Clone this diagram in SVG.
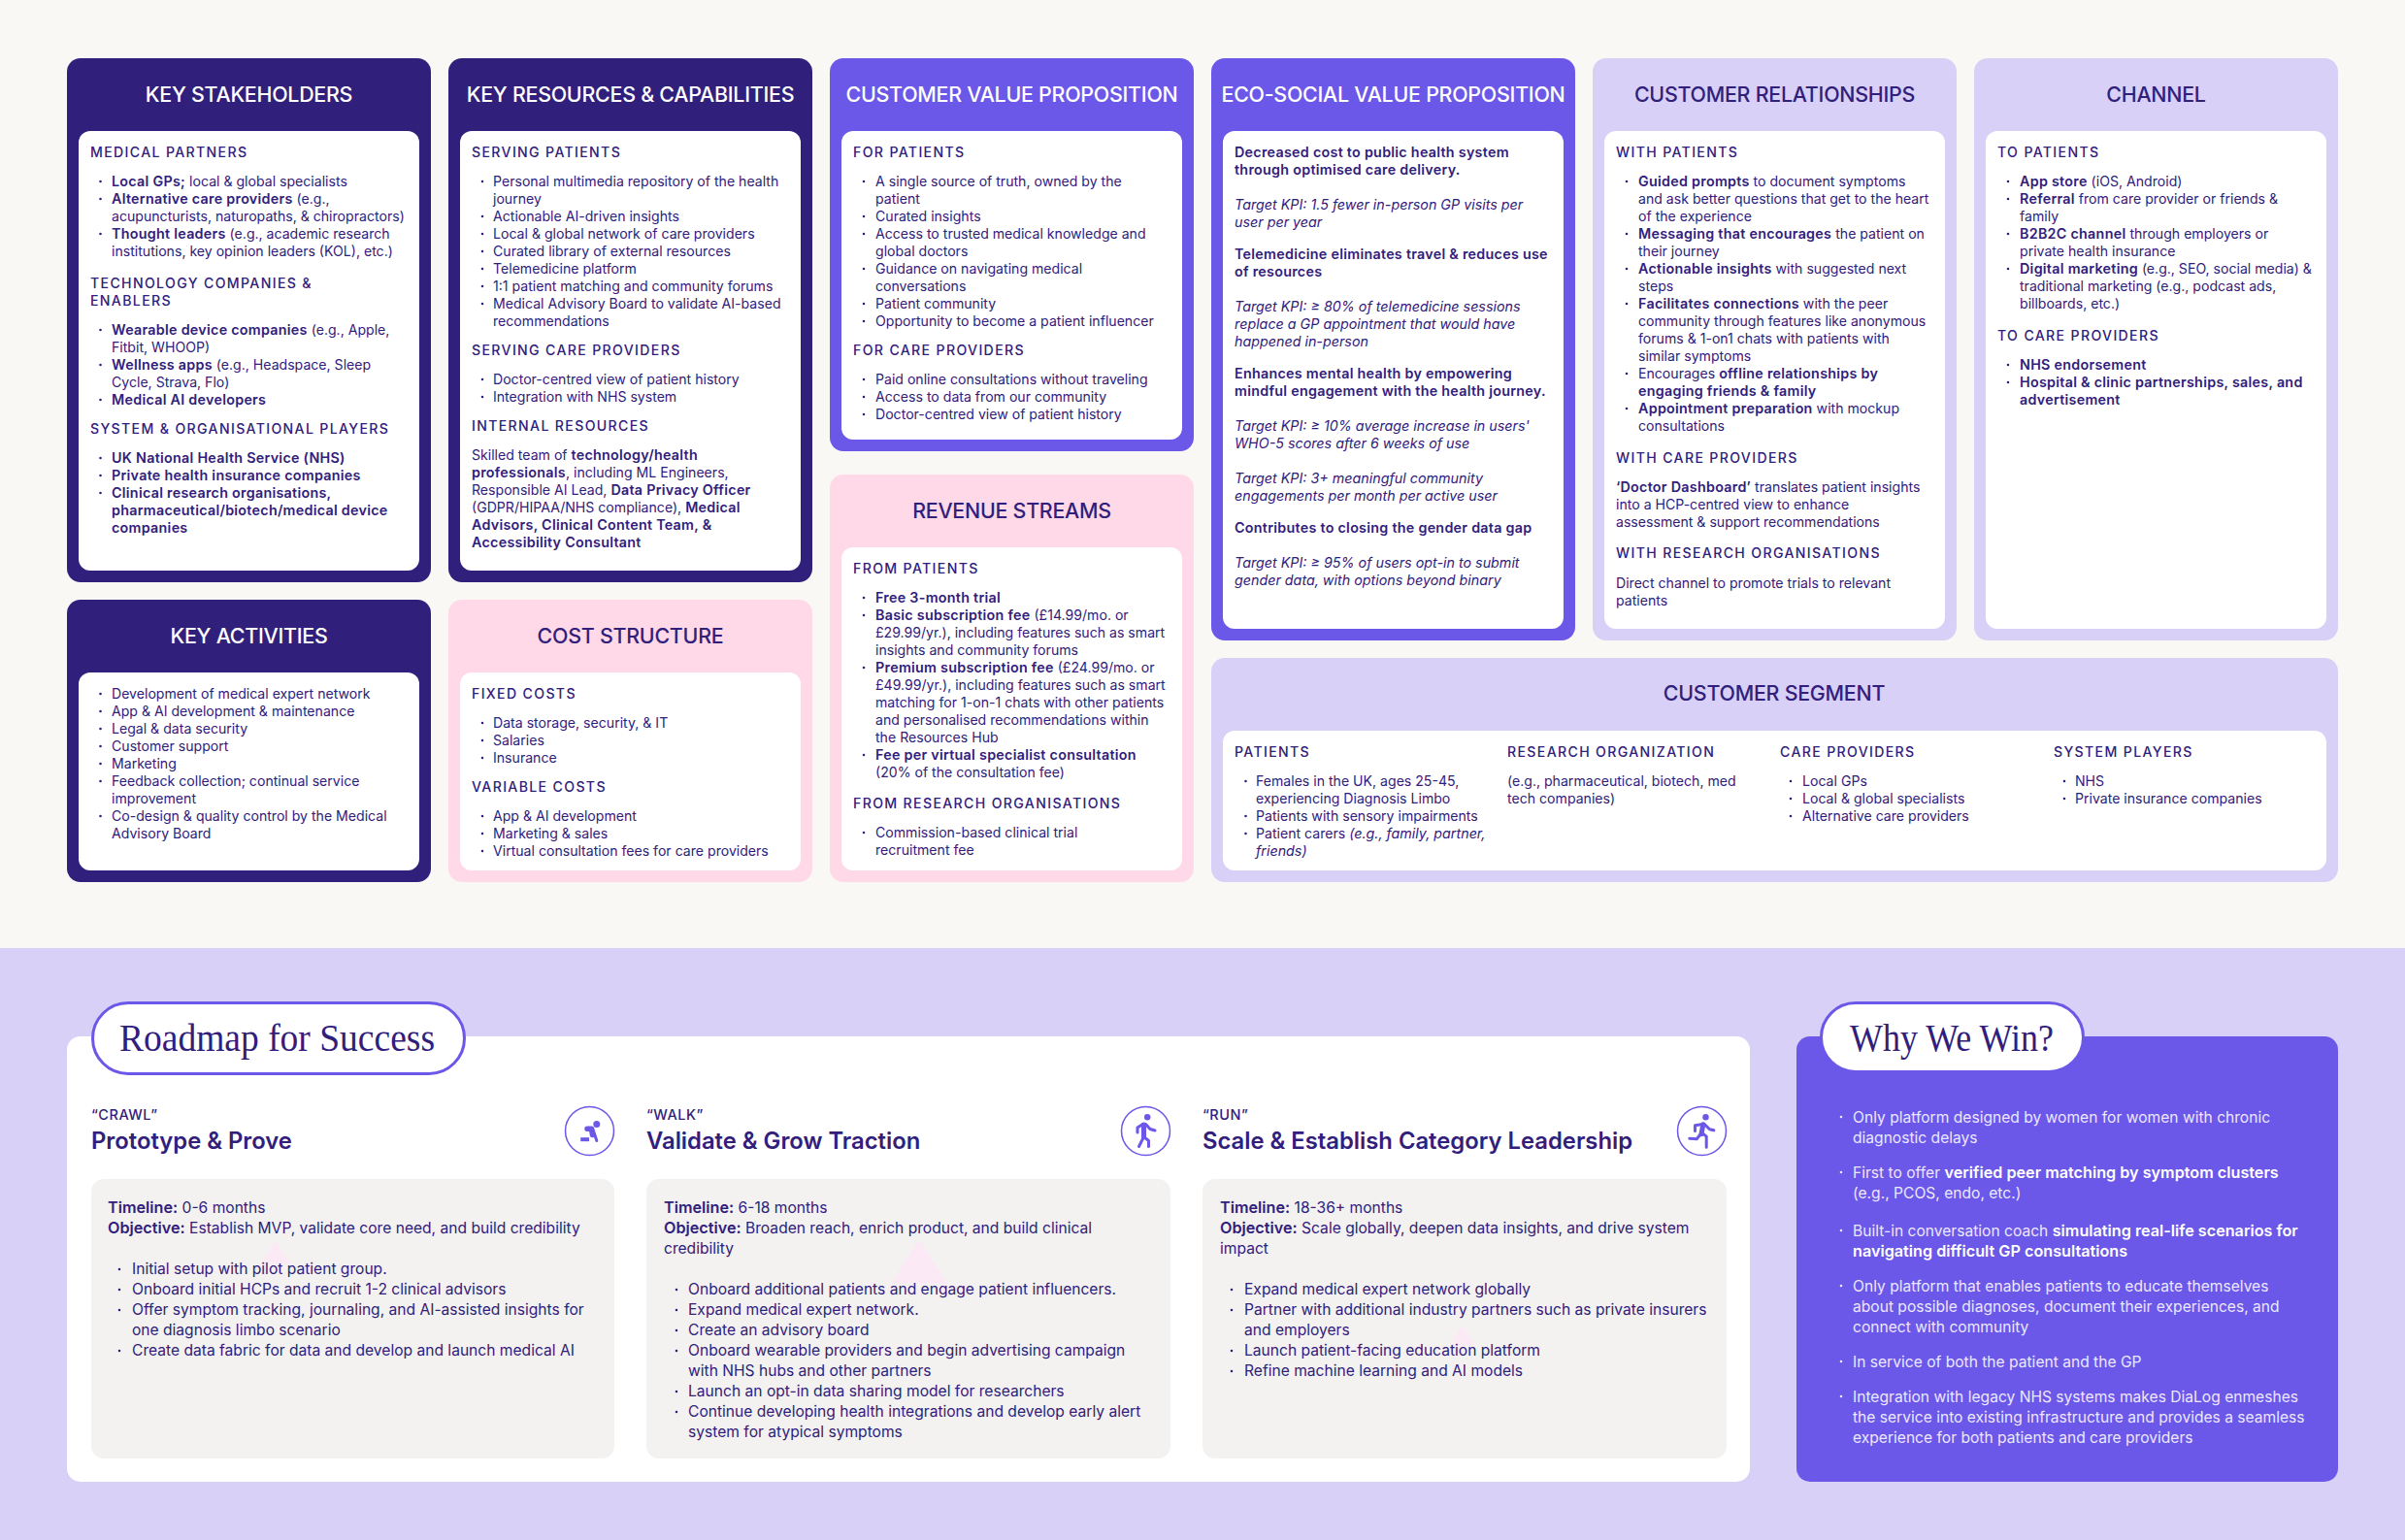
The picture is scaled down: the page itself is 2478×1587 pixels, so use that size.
<svg xmlns="http://www.w3.org/2000/svg" width="2478" height="1587" viewBox="0 0 2478 1587">
<style>
text{font-family:Inter,"Liberation Sans",sans-serif;font-size:14.1px;fill:#30207c;font-weight:400}
.b{font-weight:600;font-size:14.3px;letter-spacing:.28px}
.i{font-style:italic;font-size:14.3px}
.h{font-weight:500;letter-spacing:1.35px}
.T{font-size:21.4px;font-weight:500;text-anchor:middle;letter-spacing:-.25px}
.w{fill:#fff}
.n{fill:#30207c}.p{fill:#6b57e8}.l{fill:#d8d0f6}.k{fill:#ffd9e8}.g{fill:#f3f2f0}.f{fill:#fff}
.d{fill:none;stroke:#30207c;stroke-width:2.6;stroke-linecap:round}
.r text,.v text{font-size:15.6px}
.r .b,.v .b{font-size:16.2px;letter-spacing:0}
.r .s{font-size:14.5px;font-weight:500;letter-spacing:.5px}
.r .H{font-size:23.8px;font-weight:600}
.r .serif,.v .serif{font-family:"Liberation Serif",serif;font-size:40px;fill:#30207c}
.v text{fill:#ece8ff}
.v .b{fill:#fff}
.ic{fill:none;stroke:#6b57e8;stroke-linecap:round;stroke-linejoin:round;stroke-width:3}
.tri{fill:#fbeaf6}
</style>
<rect width="2478" height="1587" fill="#f9f8f5"/>
<rect y="977" width="2478" height="610" class="l"/>

<g id="key-stakeholders">
<rect x="69" y="60" width="375" height="540" rx="14" class="n"/><rect x="81" y="135" width="351" height="453" rx="12" class="f"/>
<text class="T w" x="256.500" y="105">KEY STAKEHOLDERS</text>
<path class="d" d="M103.500 187h.01M103.500 205h.01M103.500 241h.01M103.500 340h.01M103.500 376h.01M103.500 412h.01M103.500 472h.01M103.500 490h.01M103.500 508h.01"/>
<text class="h" x="93" y="162">MEDICAL PARTNERS</text>
<text x="115" y="192"><tspan class="b">Local GPs;</tspan> local &amp; global specialists</text>
<text x="115" y="210"><tspan class="b">Alternative care providers</tspan> (e.g.,</text>
<text x="115" y="228">acupuncturists, naturopaths, &amp; chiropractors)</text>
<text x="115" y="246"><tspan class="b">Thought leaders</tspan> (e.g., academic research</text>
<text x="115" y="264">institutions, key opinion leaders (KOL), etc.)</text>
<text class="h" x="93" y="297">TECHNOLOGY COMPANIES &amp;</text>
<text class="h" x="93" y="315">ENABLERS</text>
<text x="115" y="345"><tspan class="b">Wearable device companies</tspan> (e.g., Apple,</text>
<text x="115" y="363">Fitbit, WHOOP)</text>
<text x="115" y="381"><tspan class="b">Wellness apps</tspan> (e.g., Headspace, Sleep</text>
<text x="115" y="399">Cycle, Strava, Flo)</text>
<text class="b" x="115" y="417">Medical AI developers</text>
<text class="h" x="93" y="447">SYSTEM &amp; ORGANISATIONAL PLAYERS</text>
<text class="b" x="115" y="477">UK National Health Service (NHS)</text>
<text class="b" x="115" y="495">Private health insurance companies</text>
<text class="b" x="115" y="513">Clinical research organisations,</text>
<text class="b" x="115" y="531">pharmaceutical/biotech/medical device</text>
<text class="b" x="115" y="549">companies</text>
</g>

<g id="key-resources">
<rect x="462" y="60" width="375" height="540" rx="14" class="n"/><rect x="474" y="135" width="351" height="453" rx="12" class="f"/>
<text class="T w" x="649.500" y="105">KEY RESOURCES &amp; CAPABILITIES</text>
<path class="d" d="M497 187h.01M497 223h.01M497 241h.01M497 259h.01M497 277h.01M497 295h.01M497 313h.01M497 391h.01M497 409h.01"/>
<text class="h" x="486" y="162">SERVING PATIENTS</text>
<text x="508" y="192">Personal multimedia repository of the health</text>
<text x="508" y="210">journey</text>
<text x="508" y="228">Actionable AI-driven insights</text>
<text x="508" y="246">Local &amp; global network of care providers</text>
<text x="508" y="264">Curated library of external resources</text>
<text x="508" y="282">Telemedicine platform</text>
<text x="508" y="300">1:1 patient matching and community forums</text>
<text x="508" y="318">Medical Advisory Board to validate AI-based</text>
<text x="508" y="336">recommendations</text>
<text class="h" x="486" y="366">SERVING CARE PROVIDERS</text>
<text x="508" y="396">Doctor-centred view of patient history</text>
<text x="508" y="414">Integration with NHS system</text>
<text class="h" x="486" y="444">INTERNAL RESOURCES</text>
<text x="486" y="474">Skilled team of <tspan class="b">technology/health</tspan></text>
<text x="486" y="492"><tspan class="b">professionals</tspan>, including ML Engineers,</text>
<text x="486" y="510">Responsible AI Lead, <tspan class="b">Data Privacy Officer</tspan></text>
<text x="486" y="528">(GDPR/HIPAA/NHS compliance), <tspan class="b">Medical</tspan></text>
<text class="b" x="486" y="546">Advisors, Clinical Content Team, &amp;</text>
<text class="b" x="486" y="564">Accessibility Consultant</text>
</g>

<g id="key-activities">
<rect x="69" y="618" width="375" height="291" rx="14" class="n"/><rect x="81" y="693" width="351" height="204" rx="12" class="f"/>
<text class="T w" x="256.500" y="663">KEY ACTIVITIES</text>
<path class="d" d="M103.500 715h.01M103.500 733h.01M103.500 751h.01M103.500 769h.01M103.500 787h.01M103.500 805h.01M103.500 841h.01"/>
<text x="115" y="720">Development of medical expert network</text>
<text x="115" y="738">App &amp; AI development &amp; maintenance</text>
<text x="115" y="756">Legal &amp; data security</text>
<text x="115" y="774">Customer support</text>
<text x="115" y="792">Marketing</text>
<text x="115" y="810">Feedback collection; continual service</text>
<text x="115" y="828">improvement</text>
<text x="115" y="846">Co-design &amp; quality control by the Medical</text>
<text x="115" y="864">Advisory Board</text>
</g>

<g id="cost-structure">
<rect x="462" y="618" width="375" height="291" rx="14" class="k"/><rect x="474" y="693" width="351" height="204" rx="12" class="f"/>
<text class="T" x="649.500" y="663">COST STRUCTURE</text>
<path class="d" d="M497 745h.01M497 763h.01M497 781h.01M497 841h.01M497 859h.01M497 877h.01"/>
<text class="h" x="486" y="720">FIXED COSTS</text>
<text x="508" y="750">Data storage, security, &amp; IT</text>
<text x="508" y="768">Salaries</text>
<text x="508" y="786">Insurance</text>
<text class="h" x="486" y="816">VARIABLE COSTS</text>
<text x="508" y="846">App &amp; AI development</text>
<text x="508" y="864">Marketing &amp; sales</text>
<text x="508" y="882">Virtual consultation fees for care providers</text>
</g>

<g id="customer-value-proposition">
<rect x="855" y="60" width="375" height="405" rx="14" class="p"/><rect x="867" y="135" width="351" height="318" rx="12" class="f"/>
<text class="T w" x="1042.500" y="105">CUSTOMER VALUE PROPOSITION</text>
<path class="d" d="M890 187h.01M890 223h.01M890 241h.01M890 277h.01M890 313h.01M890 331h.01M890 391h.01M890 409h.01M890 427h.01"/>
<text class="h" x="879" y="162">FOR PATIENTS</text>
<text x="902" y="192">A single source of truth, owned by the</text>
<text x="902" y="210">patient</text>
<text x="902" y="228">Curated insights</text>
<text x="902" y="246">Access to trusted medical knowledge and</text>
<text x="902" y="264">global doctors</text>
<text x="902" y="282">Guidance on navigating medical</text>
<text x="902" y="300">conversations</text>
<text x="902" y="318">Patient community</text>
<text x="902" y="336">Opportunity to become a patient influencer</text>
<text class="h" x="879" y="366">FOR CARE PROVIDERS</text>
<text x="902" y="396">Paid online consultations without traveling</text>
<text x="902" y="414">Access to data from our community</text>
<text x="902" y="432">Doctor-centred view of patient history</text>
</g>

<g id="revenue-streams">
<rect x="855" y="489" width="375" height="420" rx="14" class="k"/><rect x="867" y="564" width="351" height="333" rx="12" class="f"/>
<text class="T" x="1042.500" y="534">REVENUE STREAMS</text>
<path class="d" d="M890 616h.01M890 634h.01M890 688h.01M890 778h.01M890 858h.01"/>
<text class="h" x="879" y="591">FROM PATIENTS</text>
<text class="b" x="902" y="621">Free 3-month trial</text>
<text x="902" y="639"><tspan class="b">Basic subscription fee</tspan> (£14.99/mo. or</text>
<text x="902" y="657">£29.99/yr.), including features such as smart</text>
<text x="902" y="675">insights and community forums</text>
<text x="902" y="693"><tspan class="b">Premium subscription fee</tspan> (£24.99/mo. or</text>
<text x="902" y="711">£49.99/yr.), including features such as smart</text>
<text x="902" y="729">matching for 1-on-1 chats with other patients</text>
<text x="902" y="747">and personalised recommendations within</text>
<text x="902" y="765">the Resources Hub</text>
<text class="b" x="902" y="783">Fee per virtual specialist consultation</text>
<text x="902" y="801">(20% of the consultation fee)</text>
<text class="h" x="879" y="833">FROM RESEARCH ORGANISATIONS</text>
<text x="902" y="863">Commission-based clinical trial</text>
<text x="902" y="881">recruitment fee</text>
</g>

<g id="eco-social-value-proposition">
<rect x="1248" y="60" width="375" height="600" rx="14" class="p"/><rect x="1260" y="135" width="351" height="513" rx="12" class="f"/>
<text class="T w" x="1435.500" y="105">ECO-SOCIAL VALUE PROPOSITION</text>
<text class="b" x="1272" y="162">Decreased cost to public health system</text>
<text class="b" x="1272" y="180">through optimised care delivery.</text>
<text class="i" x="1272" y="216">Target KPI: 1.5 fewer in-person GP visits per</text>
<text class="i" x="1272" y="234">user per year</text>
<text class="b" x="1272" y="267">Telemedicine eliminates travel &amp; reduces use</text>
<text class="b" x="1272" y="285">of resources</text>
<text class="i" x="1272" y="321">Target KPI: ≥ 80% of telemedicine sessions</text>
<text class="i" x="1272" y="339">replace a GP appointment that would have</text>
<text class="i" x="1272" y="357">happened in-person</text>
<text class="b" x="1272" y="390">Enhances mental health by empowering</text>
<text class="b" x="1272" y="408">mindful engagement with the health journey.</text>
<text class="i" x="1272" y="444">Target KPI: ≥ 10% average increase in users'</text>
<text class="i" x="1272" y="462">WHO-5 scores after 6 weeks of use</text>
<text class="i" x="1272" y="498">Target KPI: 3+ meaningful community</text>
<text class="i" x="1272" y="516">engagements per month per active user</text>
<text class="b" x="1272" y="549">Contributes to closing the gender data gap</text>
<text class="i" x="1272" y="585">Target KPI: ≥ 95% of users opt-in to submit</text>
<text class="i" x="1272" y="603">gender data, with options beyond binary</text>
</g>

<g id="customer-relationships">
<rect x="1641" y="60" width="375" height="600" rx="14" class="l"/><rect x="1653" y="135" width="351" height="513" rx="12" class="f"/>
<text class="T" x="1828.500" y="105">CUSTOMER RELATIONSHIPS</text>
<path class="d" d="M1676 187h.01M1676 241h.01M1676 277h.01M1676 313h.01M1676 385h.01M1676 421h.01"/>
<text class="h" x="1665" y="162">WITH PATIENTS</text>
<text x="1688" y="192"><tspan class="b">Guided prompts</tspan> to document symptoms</text>
<text x="1688" y="210">and ask better questions that get to the heart</text>
<text x="1688" y="228">of the experience</text>
<text x="1688" y="246"><tspan class="b">Messaging that encourages</tspan> the patient on</text>
<text x="1688" y="264">their journey</text>
<text x="1688" y="282"><tspan class="b">Actionable insights</tspan> with suggested next</text>
<text x="1688" y="300">steps</text>
<text x="1688" y="318"><tspan class="b">Facilitates connections</tspan> with the peer</text>
<text x="1688" y="336">community through features like anonymous</text>
<text x="1688" y="354">forums &amp; 1-on1 chats with patients with</text>
<text x="1688" y="372">similar symptoms</text>
<text x="1688" y="390">Encourages <tspan class="b">offline relationships by</tspan></text>
<text class="b" x="1688" y="408">engaging friends &amp; family</text>
<text x="1688" y="426"><tspan class="b">Appointment preparation</tspan> with mockup</text>
<text x="1688" y="444">consultations</text>
<text class="h" x="1665" y="477">WITH CARE PROVIDERS</text>
<text x="1665" y="507"><tspan class="b">‘Doctor Dashboard’</tspan> translates patient insights</text>
<text x="1665" y="525">into a HCP-centred view to enhance</text>
<text x="1665" y="543">assessment &amp; support recommendations</text>
<text class="h" x="1665" y="575">WITH RESEARCH ORGANISATIONS</text>
<text x="1665" y="606">Direct channel to promote trials to relevant</text>
<text x="1665" y="624">patients</text>
</g>

<g id="channel">
<rect x="2034" y="60" width="375" height="600" rx="14" class="l"/><rect x="2046" y="135" width="351" height="513" rx="12" class="f"/>
<text class="T" x="2221.500" y="105">CHANNEL</text>
<path class="d" d="M2069 187h.01M2069 205h.01M2069 241h.01M2069 277h.01M2069 376h.01M2069 394h.01"/>
<text class="h" x="2058" y="162">TO PATIENTS</text>
<text x="2081" y="192"><tspan class="b">App store</tspan> (iOS, Android)</text>
<text x="2081" y="210"><tspan class="b">Referral</tspan> from care provider or friends &amp;</text>
<text x="2081" y="228">family</text>
<text x="2081" y="246"><tspan class="b">B2B2C channel</tspan> through employers or</text>
<text x="2081" y="264">private health insurance</text>
<text x="2081" y="282"><tspan class="b">Digital marketing</tspan> (e.g., SEO, social media) &amp;</text>
<text x="2081" y="300">traditional marketing (e.g., podcast ads,</text>
<text x="2081" y="318">billboards, etc.)</text>
<text class="h" x="2058" y="351">TO CARE PROVIDERS</text>
<text class="b" x="2081" y="381">NHS endorsement</text>
<text class="b" x="2081" y="399">Hospital &amp; clinic partnerships, sales, and</text>
<text class="b" x="2081" y="417">advertisement</text>
</g>

<g id="customer-segment">
<rect x="1248" y="678" width="1161" height="231" rx="14" class="l"/><rect x="1260" y="753" width="1137" height="144" rx="12" class="f"/>
<text class="T" x="1828" y="722">CUSTOMER SEGMENT</text>
<path class="d" d="M1283.500 805h.01M1283.500 841h.01M1283.500 859h.01M1845 805h.01M1845 823h.01M1845 841h.01M2127 805h.01M2127 823h.01"/>
<text class="h" x="1272" y="780">PATIENTS</text>
<text x="1294" y="810">Females in the UK, ages 25-45,</text>
<text x="1294" y="828">experiencing Diagnosis Limbo</text>
<text x="1294" y="846">Patients with sensory impairments</text>
<text x="1294" y="864">Patient carers <tspan class="i">(e.g., family, partner,</tspan></text>
<text class="i" x="1294" y="882">friends)</text>
<text class="h" x="1553" y="780">RESEARCH ORGANIZATION</text>
<text x="1553" y="810">(e.g., pharmaceutical, biotech, med</text>
<text x="1553" y="828">tech companies)</text>
<text class="h" x="1834" y="780">CARE PROVIDERS</text>
<text x="1857" y="810">Local GPs</text>
<text x="1857" y="828">Local &amp; global specialists</text>
<text x="1857" y="846">Alternative care providers</text>
<text class="h" x="2116" y="780">SYSTEM PLAYERS</text>
<text x="2138" y="810">NHS</text>
<text x="2138" y="828">Private insurance companies</text>
</g>

<g id="roadmap" class="r">
<rect x="69" y="1068" width="1734" height="459" rx="14" class="f"/>
<rect x="95.500" y="1033.500" width="383" height="73" rx="36.500" fill="#fff" stroke="#6b57e8" stroke-width="3"/>
<text class="serif" x="123" y="1083" textLength="325" lengthAdjust="spacingAndGlyphs">Roadmap for Success</text>

<g id="crawl">
<rect x="94" y="1215" width="539" height="288" rx="13" class="g"/>
<polygon class="tri" points="283,1278 269,1303 300,1303"/>
<g transform="translate(607.500 1165.500)"><circle r="25" fill="none" stroke="#6b57e8" stroke-width="1.500"/><circle cx="7.300" cy="-7" r="3.500" fill="#6b57e8" /><path class="ic" d="M4 0L7.300 10M-3 -2.500L3 -2.500L4 0"/><path class="ic" style="stroke-width:5.500" d="M-2.500 -2.300L2 -2.300L3 4"/><path class="ic" style="stroke-width:4;stroke-linecap:butt" d="M-9.300 8.700H-.5"/></g>
<text class="s" x="94" y="1154">“CRAWL”</text>
<text class="H" x="94" y="1184">Prototype &amp; Prove</text>
<g transform="translate(0 -1)">
<path class="d" d="M123 1309h.01M123 1330h.01M123 1351h.01M123 1393h.01"/>
<text x="111" y="1251"><tspan class="b">Timeline:</tspan> 0-6 months</text>
<text x="111" y="1272"><tspan class="b">Objective:</tspan> Establish MVP, validate core need, and build credibility</text>
<text x="136" y="1314">Initial setup with pilot patient group.</text>
<text x="136" y="1335">Onboard initial HCPs and recruit 1-2 clinical advisors</text>
<text x="136" y="1356">Offer symptom tracking, journaling, and AI-assisted insights for</text>
<text x="136" y="1377">one diagnosis limbo scenario</text>
<text x="136" y="1398">Create data fabric for data and develop and launch medical AI</text>
</g>
</g>

<g id="walk">
<rect x="666" y="1215" width="540" height="288" rx="13" class="g"/>
<polygon class="tri" points="947,1277 918,1323 976,1323"/>
<g transform="translate(1180.500 1165.500)"><circle r="25" fill="none" stroke="#6b57e8" stroke-width="1.500"/><circle cx="1.700" cy="-14.300" r="3.200" fill="#6b57e8"/><path class="ic" d="M-3 -7L-8.500 -3.500V1.500M0 -7L4.500 -2L9.500 -.5M-2 6L-7 16M-2 6L3 10V16"/><path class="ic" style="stroke-width:5" d="M-2 -6.500V6"/></g>
<text class="s" x="666" y="1154">“WALK”</text>
<text class="H" x="666" y="1184">Validate &amp; Grow Traction</text>
<g transform="translate(0 -1)">
<path class="d" d="M697 1330h.01M697 1351h.01M697 1372h.01M697 1393h.01M697 1435h.01M697 1456h.01"/>
<text x="684" y="1251"><tspan class="b">Timeline:</tspan> 6-18 months</text>
<text x="684" y="1272"><tspan class="b">Objective:</tspan> Broaden reach, enrich product, and build clinical</text>
<text x="684" y="1293">credibility</text>
<text x="709" y="1335">Onboard additional patients and engage patient influencers.</text>
<text x="709" y="1356">Expand medical expert network.</text>
<text x="709" y="1377">Create an advisory board</text>
<text x="709" y="1398">Onboard wearable providers and begin advertising campaign</text>
<text x="709" y="1419">with NHS hubs and other partners</text>
<text x="709" y="1440">Launch an opt-in data sharing model for researchers</text>
<text x="709" y="1461">Continue developing health integrations and develop early alert</text>
<text x="709" y="1482">system for atypical symptoms</text>
</g>
</g>

<g id="run">
<rect x="1239" y="1215" width="540" height="288" rx="13" class="g"/>
<polygon class="tri" points="1506,1365 1495,1387 1520,1387"/>
<g transform="translate(1753.500 1165.500)"><circle r="25" fill="none" stroke="#6b57e8" stroke-width="1.500"/><circle cx="4" cy="-14.300" r="3.200" fill="#6b57e8"/><path class="ic" d="M-.5 -6.700L-7 -5.700V0M3 -6.700L8 -1.700L12.300 -.7M-.5 2.300L-5.300 8.300L-12.700 7.700M.7 2.300L4.700 5.700V16.700"/><path class="ic" style="stroke-width:5" d="M1.300 -6.700L-.5 3.300"/></g>
<text class="s" x="1239" y="1154">“RUN”</text>
<text class="H" x="1239" y="1184">Scale &amp; Establish Category Leadership</text>
<g transform="translate(0 -1)">
<path class="d" d="M1269 1330h.01M1269 1351h.01M1269 1393h.01M1269 1414h.01"/>
<text x="1257" y="1251"><tspan class="b">Timeline:</tspan> 18-36+ months</text>
<text x="1257" y="1272"><tspan class="b">Objective:</tspan> Scale globally, deepen data insights, and drive system</text>
<text x="1257" y="1293">impact</text>
<text x="1282" y="1335">Expand medical expert network globally</text>
<text x="1282" y="1356">Partner with additional industry partners such as private insurers</text>
<text x="1282" y="1377">and employers</text>
<text x="1282" y="1398">Launch patient-facing education platform</text>
<text x="1282" y="1419">Refine machine learning and AI models</text>
</g>
</g>
</g>

<g id="why-we-win" class="v">
<rect x="1851" y="1068" width="558" height="459" rx="14" class="p"/>
<rect x="1876.500" y="1033.500" width="270" height="71" rx="35.500" fill="#fff" stroke="#6b57e8" stroke-width="3"/>
<text class="serif" x="1906" y="1083" textLength="210" lengthAdjust="spacingAndGlyphs">Why We Win?</text>
<g transform="translate(0 -1)">
<path class="d" style="stroke:#ece8ff" d="M1897 1152h.01M1897 1209h.01M1897 1269h.01M1897 1326h.01M1897 1404h.01M1897 1440h.01"/>
<text x="1909" y="1158">Only platform designed by women for women with chronic</text>
<text x="1909" y="1179">diagnostic delays</text>
<text x="1909" y="1215">First to offer <tspan class="b">verified peer matching by symptom clusters</tspan></text>
<text x="1909" y="1236">(e.g., PCOS, endo, etc.)</text>
<text x="1909" y="1275">Built-in conversation coach <tspan class="b">simulating real-life scenarios for</tspan></text>
<text class="b" x="1909" y="1296">navigating difficult GP consultations</text>
<text x="1909" y="1332">Only platform that enables patients to educate themselves</text>
<text x="1909" y="1353">about possible diagnoses, document their experiences, and</text>
<text x="1909" y="1374">connect with community</text>
<text x="1909" y="1410">In service of both the patient and the GP</text>
<text x="1909" y="1446">Integration with legacy NHS systems makes DiaLog enmeshes</text>
<text x="1909" y="1467">the service into existing infrastructure and provides a seamless</text>
<text x="1909" y="1488">experience for both patients and care providers</text>
</g>
</g>
</svg>
